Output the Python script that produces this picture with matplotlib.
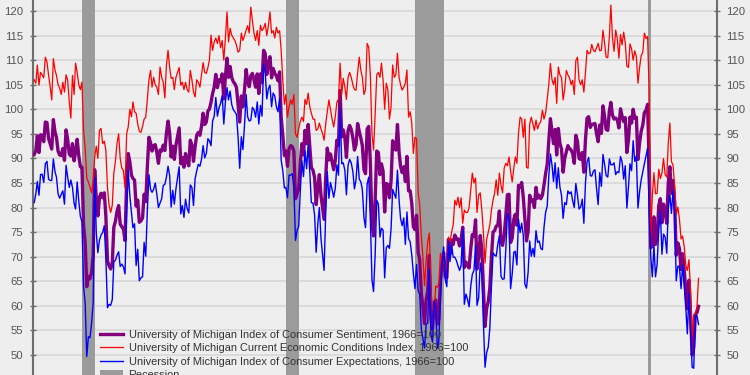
import matplotlib
matplotlib.use("Agg")
import matplotlib.pyplot as plt
import pandas as pd

plt.rcParams['font.family'] = ['Liberation Sans', 'DejaVu Sans']

# Monthly values, Jan 1988 .. Oct 2022 (one row per year)
sentiment = [
    90.8, 91.6, 94.6, 91.2, 94.8, 94.7, 93.4, 97.4, 97.3, 94.1, 93.0, 91.9,
    97.9, 95.4, 94.3, 91.5, 90.7, 90.6, 92.0, 89.6, 95.8, 93.9, 90.9, 90.5,
    93.0, 89.5, 91.3, 93.9, 90.6, 88.3, 88.2, 76.4, 72.8, 63.9, 66.0, 65.5,
    66.8, 70.4, 87.7, 81.8, 78.3, 82.1, 82.9, 82.0, 83.0, 78.3, 69.1, 68.2,
    67.5, 68.8, 76.0, 77.2, 79.2, 80.4, 76.6, 76.1, 75.6, 73.3, 85.3, 91.0,
    89.3, 86.6, 85.9, 85.6, 80.3, 81.5, 77.0, 77.3, 77.9, 82.7, 81.2, 88.2,
    94.3, 93.2, 91.5, 92.6, 92.8, 91.2, 89.0, 91.7, 91.5, 92.7, 91.6, 95.1,
    97.6, 95.1, 90.3, 92.5, 89.8, 92.7, 94.4, 96.2, 88.9, 90.2, 88.2, 91.0,
    89.3, 88.5, 93.7, 92.7, 89.4, 92.4, 94.7, 95.3, 94.7, 96.5, 99.2, 96.9,
    97.4, 99.7, 100.0, 101.4, 103.2, 104.5, 107.1, 104.4, 106.0, 105.6, 107.2, 102.1,
    106.6, 110.4, 106.5, 108.7, 106.5, 105.6, 105.2, 104.4, 100.9, 97.4, 102.7, 100.5,
    103.9, 108.1, 105.7, 104.6, 106.8, 107.3, 106.0, 104.5, 107.2, 103.2, 107.2, 105.4,
    112.0, 111.3, 107.1, 109.2, 110.7, 106.4, 108.3, 107.3, 106.8, 105.8, 107.6, 98.4,
    94.7, 90.6, 91.5, 88.4, 92.0, 92.6, 92.4, 91.5, 81.8, 82.7, 83.9, 88.8,
    93.0, 90.7, 95.7, 93.0, 96.9, 92.4, 88.1, 87.6, 86.1, 80.6, 84.2, 86.7,
    82.4, 79.9, 77.6, 86.0, 92.1, 89.7, 90.9, 89.3, 87.7, 89.6, 93.7, 92.6,
    103.8, 94.4, 95.8, 94.2, 90.2, 95.6, 96.7, 95.9, 94.2, 91.7, 92.8, 97.1,
    95.5, 94.1, 92.6, 87.7, 86.9, 96.0, 96.5, 89.1, 76.9, 74.2, 81.6, 91.5,
    91.2, 86.7, 88.9, 87.4, 79.1, 84.9, 84.7, 82.0, 85.4, 93.6, 92.1, 91.7,
    96.9, 91.3, 88.4, 87.1, 88.3, 85.3, 90.4, 83.4, 83.4, 80.9, 76.1, 75.5,
    78.4, 70.8, 69.5, 62.6, 59.8, 56.4, 61.2, 63.0, 70.3, 57.6, 55.3, 60.1,
    61.2, 56.3, 57.3, 65.1, 68.7, 70.8, 66.0, 65.7, 73.5, 70.6, 73.4, 72.5,
    74.4, 73.6, 73.6, 72.2, 73.6, 76.0, 67.8, 68.9, 68.2, 67.7, 71.6, 74.5,
    74.2, 77.5, 67.5, 69.8, 74.3, 71.5, 63.7, 55.8, 59.5, 60.8, 63.7, 69.9,
    75.0, 75.3, 76.2, 76.4, 79.3, 73.2, 72.3, 74.3, 78.3, 82.6, 82.7, 72.9,
    73.8, 77.6, 78.6, 76.4, 84.5, 84.1, 85.1, 82.1, 77.5, 73.2, 75.1, 82.5,
    81.2, 81.6, 80.0, 84.1, 81.9, 82.5, 81.8, 82.5, 84.6, 86.9, 88.8, 93.6,
    98.1, 95.4, 93.0, 95.9, 90.7, 96.1, 93.1, 91.9, 87.2, 90.0, 91.3, 92.6,
    92.0, 91.7, 91.0, 89.0, 94.7, 93.5, 90.0, 89.8, 91.2, 87.2, 93.8, 98.2,
    98.5, 96.3, 96.9, 97.0, 97.1, 95.0, 93.4, 96.8, 95.1, 100.7, 98.5, 95.9,
    95.7, 99.7, 101.4, 98.8, 98.0, 98.2, 97.9, 96.2, 100.1, 98.6, 97.5, 98.3,
    91.2, 93.8, 98.4, 97.2, 100.0, 98.2, 98.4, 89.8, 93.2, 95.5, 96.8, 99.3,
    99.8, 101.0, 89.1, 71.8, 72.3, 78.1, 72.5, 74.1, 80.4, 81.8, 76.9, 80.7,
    79.0, 76.8, 84.9, 88.3, 82.9, 85.5, 81.2, 70.3, 72.8, 71.7, 67.4, 70.6,
    67.2, 62.8, 59.4, 65.2, 58.4, 50.0, 51.5, 58.2, 58.6, 59.9,
]

current = [
    106.0, 105.3, 109.0, 104.9, 107.5, 107.0, 106.4, 110.6, 109.6, 107.0, 104.6, 101.9,
    110.3, 108.0, 106.9, 105.0, 104.3, 103.0, 105.5, 103.5, 107.0, 105.9, 101.5, 98.2,
    106.9, 103.0, 109.4, 107.5, 105.0, 104.0, 105.5, 95.7, 92.0, 86.0, 85.2, 84.2,
    83.0, 85.5, 90.3, 92.5, 90.0, 95.7, 96.1, 93.0, 93.5, 91.7, 84.0, 80.5,
    79.0, 80.5, 87.0, 89.5, 93.0, 95.0, 90.0, 88.0, 87.5, 84.0, 95.0, 96.4,
    100.0, 98.5, 101.5, 99.5, 99.2, 97.0, 95.5, 95.3, 96.5, 98.0, 98.4, 102.0,
    106.0, 107.9, 104.5, 106.5, 105.0, 104.5, 103.0, 108.6, 106.5, 105.5, 102.3, 109.0,
    112.0, 108.5, 106.3, 106.5, 104.0, 106.5, 107.5, 108.5, 104.9, 105.5, 104.0, 105.5,
    104.0, 103.5, 107.9, 106.0, 103.5, 102.5, 106.0, 105.5, 104.5, 107.0, 109.5, 107.5,
    107.3, 108.5, 110.0, 115.1, 112.0, 113.7, 114.5, 113.4, 115.0, 112.5, 114.0, 110.0,
    114.5, 119.8, 113.7, 116.5, 115.1, 114.5, 114.0, 113.0, 111.6, 112.0, 115.5, 114.0,
    115.0, 116.1, 117.0, 115.5, 120.8, 118.0, 115.5, 114.0, 116.0, 113.0, 117.1, 116.0,
    116.5, 117.5, 115.0, 117.0, 119.8, 115.5, 116.0, 114.5, 116.7, 115.5, 116.0, 112.0,
    105.9, 101.0, 103.0, 98.4, 100.5, 101.9, 101.0, 103.0, 95.0, 94.3, 96.0, 97.5,
    98.4, 97.5, 102.0, 101.0, 103.3, 100.5, 99.2, 98.0, 98.0, 95.7, 96.0, 97.2,
    96.0, 95.0, 93.7, 97.0, 99.5, 101.9, 100.0, 98.0, 96.4, 98.5, 101.5, 102.0,
    109.4, 103.0, 106.3, 104.5, 102.0, 106.5, 107.5, 106.5, 105.0, 104.0, 103.9, 107.5,
    110.6, 107.9, 106.5, 103.0, 104.0, 113.4, 112.6, 107.0, 95.0, 91.7, 99.0, 107.0,
    107.5, 106.5, 109.4, 106.0, 100.0, 105.3, 104.0, 98.0, 100.5, 109.0, 106.5, 107.0,
    111.4, 106.5, 105.0, 103.9, 104.5, 105.3, 108.0, 98.4, 99.5, 97.2, 91.0, 94.3,
    94.0, 83.0, 80.5, 74.0, 70.0, 64.1, 69.0, 73.0, 74.8, 63.0, 59.5, 58.7,
    64.0, 63.8, 64.5, 70.7, 69.5, 69.0, 67.0, 68.5, 74.0, 73.0, 75.0, 76.5,
    81.5, 80.5, 82.1, 80.0, 82.0, 76.8, 79.5, 79.0, 79.0, 80.0, 83.5, 87.0,
    85.0, 86.0, 79.0, 82.5, 83.0, 79.5, 75.0, 68.7, 73.5, 75.0, 76.5, 79.5,
    81.5, 83.0, 85.6, 82.5, 87.0, 84.5, 83.0, 88.0, 89.0, 88.5, 90.3, 87.5,
    85.2, 88.0, 90.3, 89.0, 95.1, 98.4, 98.0, 94.3, 98.0, 88.2, 88.0, 97.0,
    98.4, 97.0, 95.7, 97.8, 96.0, 97.0, 97.5, 99.8, 98.0, 99.2, 102.0, 105.0,
    109.3, 106.0, 105.0, 106.5, 101.2, 108.6, 107.0, 106.5, 101.9, 104.0, 107.9, 107.0,
    106.4, 105.0, 105.9, 103.0, 109.9, 110.6, 106.0, 105.0, 106.0, 103.5, 107.5, 112.0,
    111.3, 111.5, 113.2, 112.0, 111.7, 112.5, 113.4, 111.9, 112.0, 116.1, 113.5, 110.6,
    110.5, 114.9, 121.2, 114.5, 111.8, 116.1, 114.4, 110.4, 115.2, 113.1, 115.7, 113.5,
    108.8, 108.5, 113.3, 112.3, 110.0, 111.9, 110.7, 105.3, 108.5, 110.9, 111.6, 115.5,
    114.4, 114.8, 103.7, 74.3, 82.3, 87.1, 82.8, 82.9, 87.8, 85.9, 87.0, 90.0,
    86.7, 86.2, 93.0, 97.2, 89.4, 88.6, 84.5, 78.5, 80.1, 77.7, 73.6, 74.2,
    72.0, 68.2, 67.2, 69.4, 63.3, 53.8, 58.1, 58.6, 59.7, 65.6,
]

expectations = [
    81.0, 82.8, 85.3, 82.5, 86.7, 86.8, 85.1, 88.9, 89.4, 85.8, 85.5, 85.5,
    89.9, 87.3, 86.2, 82.8, 81.9, 82.7, 83.4, 80.7, 88.6, 86.2, 84.1, 85.6,
    84.1, 80.9, 79.7, 85.2, 81.4, 78.2, 77.1, 64.0, 60.4, 49.7, 53.7, 53.5,
    56.4, 60.7, 86.0, 74.9, 70.8, 73.4, 74.4, 74.9, 76.3, 69.7, 59.6, 60.3,
    60.1, 61.3, 68.9, 69.3, 70.3, 71.0, 68.0, 68.5, 67.9, 66.5, 79.1, 87.5,
    82.4, 79.0, 75.9, 76.7, 68.2, 71.5, 65.1, 65.7, 65.9, 72.9, 70.1, 79.3,
    86.7, 83.7, 83.1, 83.7, 85.0, 82.7, 80.0, 80.9, 81.8, 84.5, 84.7, 86.2,
    88.4, 86.5, 80.1, 83.5, 80.7, 83.8, 86.0, 88.3, 78.7, 80.4, 78.0, 81.7,
    79.8, 78.9, 84.6, 84.1, 80.4, 85.9, 87.4, 88.8, 88.4, 89.8, 92.6, 90.1,
    91.0, 94.0, 93.6, 92.6, 97.6, 98.6, 102.4, 98.6, 100.3, 101.2, 102.8, 97.0,
    101.5, 104.4, 101.9, 103.7, 101.0, 99.9, 99.5, 98.9, 94.1, 88.0, 94.4, 91.8,
    96.8, 103.0, 98.5, 97.6, 97.8, 100.4, 99.9, 98.4, 101.5, 97.0, 100.8, 98.6,
    109.1, 107.4, 102.1, 104.2, 104.9, 100.5, 103.3, 102.7, 100.5, 99.5, 102.2, 89.7,
    87.5, 84.0, 84.1, 82.0, 86.6, 86.6, 86.9, 84.1, 73.3, 75.3, 76.2, 83.2,
    89.5, 86.3, 91.6, 87.9, 92.8, 87.2, 81.0, 80.9, 78.5, 70.9, 76.7, 80.0,
    73.7, 70.2, 67.2, 78.9, 87.3, 81.9, 85.1, 83.7, 82.1, 83.9, 88.7, 86.6,
    100.2, 88.9, 89.1, 87.6, 82.6, 88.6, 89.8, 89.1, 87.3, 83.8, 85.7, 90.4,
    85.8, 85.2, 83.7, 77.9, 75.9, 84.8, 86.2, 77.6, 65.3, 62.9, 70.4, 81.5,
    80.7, 74.0, 75.8, 75.4, 65.7, 71.8, 72.3, 71.7, 75.7, 83.7, 82.8, 81.9,
    87.6, 81.5, 77.8, 76.3, 77.9, 72.5, 79.1, 73.7, 73.0, 70.4, 66.6, 63.5,
    68.4, 63.0, 62.4, 55.3, 53.3, 51.4, 56.2, 56.5, 67.4, 54.2, 52.6, 61.0,
    59.4, 51.4, 52.7, 61.5, 68.2, 72.0, 65.4, 63.9, 73.2, 69.0, 72.3, 69.9,
    69.9, 69.2, 68.2, 67.2, 68.2, 75.5, 60.3, 62.4, 61.3, 59.8, 64.0, 66.4,
    67.2, 72.1, 60.1, 61.6, 68.7, 66.4, 56.4, 47.5, 50.5, 51.6, 55.5, 63.8,
    70.8, 70.3, 70.1, 72.5, 74.3, 66.0, 65.4, 65.5, 71.5, 78.8, 77.8, 63.5,
    66.5, 70.9, 71.1, 68.3, 77.6, 74.9, 76.8, 74.3, 64.4, 63.6, 66.8, 73.2,
    70.1, 71.7, 70.0, 75.3, 72.9, 73.2, 71.7, 71.4, 76.0, 79.0, 80.3, 86.3,
    90.9, 88.6, 85.3, 89.1, 83.9, 88.1, 84.2, 82.5, 77.8, 81.0, 80.6, 83.4,
    82.8, 83.2, 81.4, 80.0, 84.9, 82.5, 79.7, 80.1, 81.7, 76.8, 85.0, 89.3,
    90.2, 86.5, 86.4, 87.4, 87.7, 83.8, 80.6, 87.1, 84.3, 90.8, 88.8, 86.5,
    86.2, 89.9, 88.7, 88.7, 89.1, 86.7, 87.3, 87.1, 90.4, 89.3, 85.8, 88.5,
    79.9, 84.3, 88.9, 87.5, 93.6, 89.4, 90.5, 79.9, 83.3, 85.6, 87.3, 88.9,
    90.5, 92.1, 79.7, 70.1, 65.9, 72.3, 65.9, 68.5, 75.6, 79.2, 70.5, 74.6,
    74.0, 70.7, 79.7, 82.7, 78.8, 83.5, 79.0, 65.1, 68.1, 67.9, 63.5, 68.3,
    64.1, 59.4, 54.3, 62.5, 55.2, 47.5, 47.3, 58.0, 58.0, 56.2,
]

recessions = [
    ("1990-07-01", "1991-03-01"),
    ("2001-03-01", "2001-11-01"),
    ("2007-12-01", "2009-06-01"),
    ("2020-02-01", "2020-04-01"),
]

labels = [
    "University of Michigan Index of Consumer Sentiment, 1966=100",
    "University of Michigan Current Economic Conditions Index, 1966=100",
    "University of Michigan Index of Consumer Expectations, 1966=100",
    "Recession",
]

months = pd.date_range("1988-01-01", periods=len(sentiment), freq="MS")

bg = "#eeeeee"
fig = plt.figure(figsize=(7.5, 3.75), dpi=100)
fig.patch.set_facecolor(bg)
# plot area runs past the top and bottom edge (the source image is cropped)
ax = fig.add_axes([33 / 750, -0.0776, 683.7 / 750, 1.1269])
ax.set_facecolor(bg)

for i, (start, end) in enumerate(recessions):
    ax.axvspan(pd.Timestamp(start), pd.Timestamp(end), color="#9b9b9b", lw=0,
               zorder=1, label=labels[3] if i == 0 else None)

ax.plot(months, sentiment, color="#800080", lw=2.4, zorder=3, label=labels[0])
ax.plot(months, current, color="#ff0000", lw=0.9, zorder=4, label=labels[1])
ax.plot(months, expectations, color="#0000ff", lw=1.0, zorder=5, label=labels[2])

ax.set_ylim(40, 126)
ax.set_yticks(range(40, 130, 5))
ax.set_xlim(pd.Timestamp("1987-12-09"), pd.Timestamp("2023-09-13"))
ax.set_xticks([])

ax.yaxis.grid(True, color="#d8d8d8", lw=1.2)
ax.set_axisbelow(True)
for side in ("top", "bottom"):
    ax.spines[side].set_visible(False)
for side in ("left", "right"):
    ax.spines[side].set_color("#6e6e6e")
    ax.spines[side].set_linewidth(1.5)

ax.tick_params(axis="y", left=True, right=True, labelleft=True, labelright=True,
               direction="inout", length=4, width=1, color="#6e6e6e",
               labelcolor="#555555", labelsize=8.2, pad=5)

h, l = ax.get_legend_handles_labels()
order = [l.index(t) for t in labels]
ax.legend([h[k] for k in order], [l[k] for k in order],
          loc="upper left", bbox_to_anchor=(100 / 750, 1 - 330 / 375),
          bbox_transform=fig.transFigure, frameon=False, fontsize=7.9,
          labelcolor="#333333", borderpad=0, borderaxespad=0,
          handlelength=2.1, handletextpad=0.5, labelspacing=0.3)

fig.savefig("out.png", dpi=100, facecolor=bg)
